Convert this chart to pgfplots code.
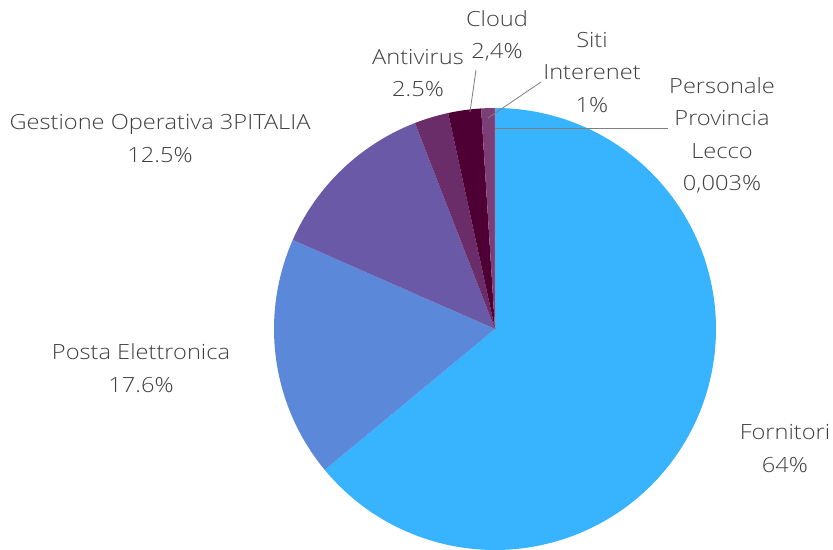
\documentclass[border=0pt]{standalone}
\usepackage{pgfplots}
\pgfplotsset{compat=1.18}
\usepackage{fontspec}
\setmainfont{Open Sans}[UprightFont={* Light},FakeStretch=1.13]
\definecolor{cF}{HTML}{38B3FD}
\definecolor{cP}{HTML}{5B88D9}
\definecolor{cG}{HTML}{6A59A6}
\definecolor{cA}{HTML}{6A2D6A}
\definecolor{cC}{HTML}{4E0035}
\definecolor{cS}{HTML}{7B3E77}
\definecolor{cX}{HTML}{B9A3B7}
\definecolor{txt}{HTML}{3F3F3F}
\definecolor{lead}{HTML}{7F7F7F}
% data (percent)
\def\vF{64}\def\vP{17.6}\def\vG{12.5}\def\vA{2.5}\def\vC{2.4}\def\vS{1}\def\vX{0.003}
\pgfmathsetmacro\aF{90}
\pgfmathsetmacro\bF{\aF-3.6*\vF}
\pgfmathsetmacro\bP{\bF-3.6*\vP}
\pgfmathsetmacro\bG{\bP-3.6*\vG}
\pgfmathsetmacro\bA{\bG-3.6*\vA}
\pgfmathsetmacro\bC{\bA-3.6*\vC}
\pgfmathsetmacro\bS{\bC-3.6*\vS}
\pgfmathsetmacro\bX{\bS-3.6*\vX}
\begin{document}
\begin{tikzpicture}
\begin{axis}[width=833bp,height=550bp,scale only axis,at={(0,0)},anchor=south west,
  xmin=0,xmax=833,ymin=0,ymax=550,y dir=reverse,
  hide axis,clip=false]
\addplot[fill=cF,draw=none,domain=\bF:\aF,samples=200] ({495+221*cos(x)},{329-221*sin(x)}) -- (axis cs:495,329) -- cycle;
\addplot[fill=cP,draw=none,domain=\bP:\bF,samples=80] ({495+221*cos(x)},{329-221*sin(x)}) -- (axis cs:495,329) -- cycle;
\addplot[fill=cG,draw=none,domain=\bG:\bP,samples=60] ({495+221*cos(x)},{329-221*sin(x)}) -- (axis cs:495,329) -- cycle;
\addplot[fill=cA,draw=none,domain=\bA:\bG,samples=20] ({495+221*cos(x)},{329-221*sin(x)}) -- (axis cs:495,329) -- cycle;
\addplot[fill=cC,draw=none,domain=\bC:\bA,samples=20] ({495+221*cos(x)},{329-221*sin(x)}) -- (axis cs:495,329) -- cycle;
\addplot[fill=cS,draw=none,domain=\bS:\bC,samples=10] ({495+221*cos(x)},{329-221*sin(x)}) -- (axis cs:495,329) -- cycle;
\addplot[fill=cX,draw=cX,line width=0.4pt,domain=\bX:\bS,samples=3] ({495+221*cos(x)},{329-221*sin(x)}) -- (axis cs:495,329) -- cycle;
% leader lines
\addplot[lead,line width=0.8bp] coordinates {(470,112) (476,70)};
\addplot[lead,line width=0.8bp] coordinates {(488,118) (541,82)};
\addplot[lead,line width=0.8bp] coordinates {(495,128) (668,128)};
% labels
\begin{scope}[every node/.style={align=center,text=txt,inner sep=0pt,font=\fontsize{21}{32.5}\selectfont}]
\node at (axis cs:497,36) {Cloud\\2,4\%};
\node at (axis cs:418,73) {Antivirus\\2.5\%};
\node at (axis cs:592,72.5) {Siti\\Interenet\\1\%};
\node at (axis cs:722,135.5) {Personale\\Provincia\\Lecco\\0,003\%};
\node at (axis cs:160,138.5) {Gestione Operativa 3PITALIA\\12.5\%};
\node at (axis cs:141,368) {Posta Elettronica\\17.6\%};
\node at (axis cs:785,448.5) {Fornitori\\64\%};
\end{scope}
\end{axis}
\pgfresetboundingbox
\useasboundingbox (0,0) rectangle (833bp,550bp);
\end{tikzpicture}
\end{document}
